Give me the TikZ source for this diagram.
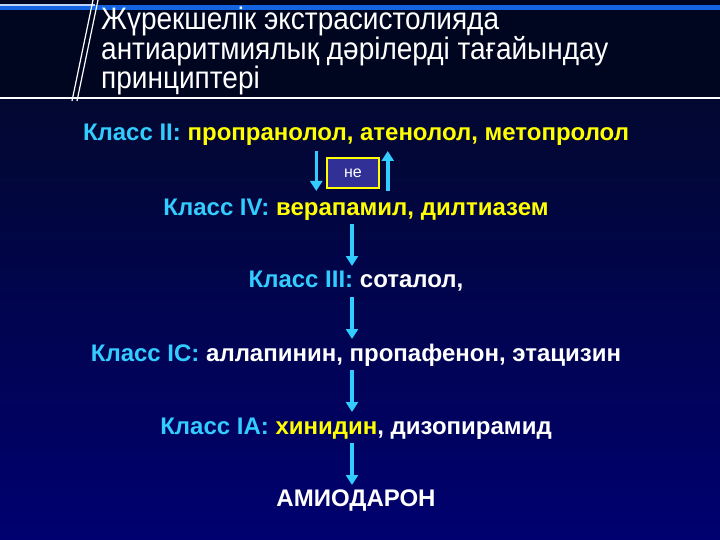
\documentclass[tikz,border=0pt]{standalone}
\usepackage{fontspec}
\setmainfont{Liberation Sans}
\usetikzlibrary{arrows.meta}
\definecolor{cy}{RGB}{51,204,255}
\definecolor{yl}{RGB}{255,255,0}
\definecolor{topbg}{RGB}{0,6,32}
\definecolor{bgA}{RGB}{2,8,48}
\definecolor{bgB}{RGB}{0,0,112}
\definecolor{bandblue}{RGB}{20,100,225}
\definecolor{boxfill}{RGB}{48,48,150}
\begin{document}
\begin{tikzpicture}[x=1pt,y=-1pt,
  titletext/.style={anchor=base west,inner sep=0pt,text=white,yscale=1.11,transform shape,font=\fontsize{28}{30}\selectfont},
  bodytext/.style={anchor=base,inner sep=0pt,font=\bfseries\fontsize{24}{28}\selectfont},
  flow/.style={draw=cy,line width=3.5pt,-{Triangle[length=10pt,width=12pt]}}]
\useasboundingbox (0,0) rectangle (720,540);
% background
\fill[topbg] (0,0) rectangle (720,98);
\shade[top color=bgA,bottom color=bgB] (0,98) rectangle (720,540);
% top band
\draw[bandblue,line width=5pt] (0,8) -- (720,8);
\draw[white!70!bandblue,line width=1.2pt] (0,5) -- (95,5);
% bottom rule of title
\draw[white,line width=2pt] (0,98) -- (720,98);
% slash lines
\draw[white,line width=1.2pt] (93,0) -- (72,101);
\draw[white,line width=1.2pt] (98,0) -- (77,101);
% title
\node[titletext] (t1) at (101,30) {Жүрекшелік экстрасистолияда};
\node[titletext] (t2) at (101,60) {антиаритмиялық дәрілерді тағайындау};
\node[titletext] (t3) at (101,89) {принциптері};
% body
\node[bodytext] (l1) at (356,141) {\textcolor{cy}{Класс II:} \textcolor{yl}{пропранолол, атенолол, метопролол}};
\node[draw=yl,line width=1.5pt,fill=boxfill,text=white,minimum width=52pt,minimum height=30pt,inner sep=0pt,font=\fontsize{16}{18}\selectfont] (ne) at (353,173) {не};
\node[bodytext] (l2) at (356,215) {\textcolor{cy}{Класс IV:} \textcolor{yl}{верапамил, дилтиазем}};
\node[bodytext] (l3) at (356,287) {\textcolor{cy}{Класс III:} \textcolor{white}{соталол,}};
\node[bodytext] (l4) at (356,361) {\textcolor{cy}{Класс IC:} \textcolor{white}{аллапинин, пропафенон, этацизин}};
\node[bodytext] (l5) at (356,434) {\textcolor{cy}{Класс IA:} \textcolor{yl}{хинидин}\textcolor{white}{, дизопирамид}};
\node[bodytext,text=white] (l6) at (356,506) {АМИОДАРОН};
% arrows
\coordinate (a1s) at ([xshift=-10pt]ne.north west |- 0,151);
\coordinate (a1e) at ([xshift=-10pt]ne.north west |- 0,191);
\draw[flow] (a1s) -- (a1e);
\coordinate (a2s) at ([xshift=8pt]ne.north east |- 0,191);
\coordinate (a2e) at ([xshift=8pt]ne.north east |- 0,151);
\draw[flow] (a2s) -- (a2e);
\draw[flow] (352,224) -- (352,266);
\draw[flow] (352,297) -- (352,339);
\draw[flow] (352,370) -- (352,412);
\draw[flow] (352,443) -- (352,485);
\end{tikzpicture}
\end{document}
